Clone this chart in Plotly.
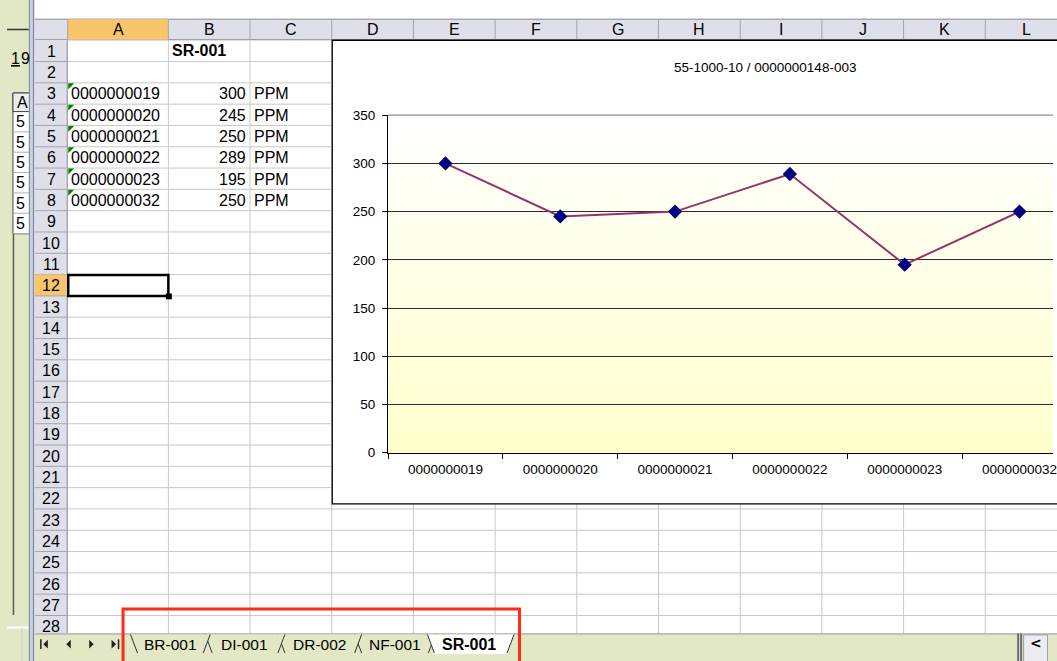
import plotly.graph_objects as go

# ---------------- data ----------------
categories = ["0000000019", "0000000020", "0000000021", "0000000022", "0000000023", "0000000032"]
values = [300, 245, 250, 289, 195, 250]
unit = "PPM"
sheet_name = "SR-001"
chart_title = "55-1000-10 / 0000000148-003"
y_ticks = [0, 50, 100, 150, 200, 250, 300, 350]
col_letters = ["A", "B", "C", "D", "E", "F", "G", "H", "I", "J", "K", "L"]
sheet_tabs = ["BR-001", "DI-001", "DR-002", "NF-001", "SR-001"]
side_labels = ["5", "5", "5", "5", "5", "5"]

# ---------------- geometry (page pixels) ----------------
W, H = 1057, 661
CELL_FONT = "Arial, Liberation Sans, sans-serif"
HDR = "#DFDFE9"
HDR_LINE = "#A4A4B0"
SEL = "#F8C46C"
GRID = "#C8C8C8"
GREEN_BG = "#E2E8C6"

col_edges = [68, 169, 251, 333, 415, 497, 579, 661, 743, 825, 907, 989, 1071]
ROW_TOP = 34
ROW_H = 21.8
N_ROWS = 28
TAB_TOP = 641
RIGHT = W + 10
BOTTOM = H + 10
CHART_L, CHART_T, CHART_B = 333.5, 34, 508.5


def X(px):
    return px / W


def Y(py):
    return 1 - py / H


shapes = []
ann = []


def rect(x0, y0, x1, y1, fill=None, line=None, lw=1, layer="below"):
    shapes.append(dict(type="rect", xref="paper", yref="paper",
                       x0=X(x0), x1=X(x1), y0=Y(y1), y1=Y(y0),
                       fillcolor=fill or "rgba(0,0,0,0)",
                       line=dict(color=line or "rgba(0,0,0,0)", width=lw if line else 0),
                       layer=layer))


def seg(x0, y0, x1, y1, color, lw=1, layer="below"):
    shapes.append(dict(type="line", xref="paper", yref="paper",
                       x0=X(x0), x1=X(x1), y0=Y(y0), y1=Y(y1),
                       line=dict(color=color, width=lw), layer=layer))


def poly(pts, fill, line=None, lw=1, layer="below"):
    p = "M " + " L ".join(f"{X(a)},{Y(b)}" for a, b in pts) + " Z"
    shapes.append(dict(type="path", xref="paper", yref="paper", path=p,
                       fillcolor=fill,
                       line=dict(color=line or "rgba(0,0,0,0)", width=lw if line else 0),
                       layer=layer))


def text(x, y, s, size=16, anchor="left", bold=False, color="black", family=CELL_FONT):
    if bold:
        s = f"<b>{s}</b>"
    ann.append(dict(xref="paper", yref="paper", x=X(x), y=Y(y), text=s, showarrow=False,
                    xanchor=anchor, yanchor="middle", borderpad=0,
                    font=dict(size=size, color=color, family=family)))


def row_top(r):
    return ROW_TOP + ROW_H * (r - 1)


def row_mid(r):
    return row_top(r) + ROW_H / 2


# ---------------- left strip (other window) ----------------
rect(-10, -10, 29, BOTTOM, fill=GREEN_BG)
seg(7, 23, 29, 23, "#333333", 1.5)
text(10, 53, "<u>1</u>", size=16)
text(20, 53, "9", size=16)
rect(13, 88, 30, 232, fill="white", line="#444444", lw=1)
rect(13, 88, 30, 107, fill="#ECECEC", line="#444444", lw=1)
text(16, 97.5, "A", size=16)
for i, lab in enumerate(side_labels):
    y0 = 107 + 20.8 * i
    seg(13, y0 + 20.8, 30, y0 + 20.8, "#B0B0B0", 1)
    text(15, y0 + 10.4, lab, size=16)
seg(13.5, 232, 13.5, 622, "#5A5A5A", 1.5)
seg(7, 635, 29, 635, "#FFFFFF", 2)
seg(22, 635, 22, BOTTOM, "#C8C8C8", 1)

# window border (double line)
rect(29, -10, 35, BOTTOM, fill="#CDD0DE")
seg(29.5, -10, 29.5, BOTTOM, "#7C8096", 1)
seg(33.5, -10, 33.5, BOTTOM, "#7C8096", 1)

# ---------------- sheet grid ----------------
rect(35, -10, RIGHT, 12, fill="white")
rect(68, ROW_TOP, RIGHT, TAB_TOP, fill="white")
for r in range(1, N_ROWS + 1):
    y = row_top(r) + ROW_H
    if y >= TAB_TOP:
        continue
    x_end = CHART_L if y < CHART_B else RIGHT
    seg(68, y, x_end, y, GRID, 1)
for xe in col_edges[1:]:
    if xe >= W:
        continue
    if xe <= CHART_L:
        seg(xe, ROW_TOP, xe, TAB_TOP, GRID, 1)
    else:
        seg(xe, CHART_B, xe, TAB_TOP, GRID, 1)

# column header
rect(35, 12, RIGHT, 34, fill=HDR)
seg(35, 12.5, RIGHT, 12.5, "#8C8C98", 1)
seg(35, 33.5, RIGHT, 33.5, "#8C8C98", 1)
rect(col_edges[0], 12.5, col_edges[1], 33.5, fill=SEL)
for i, letter in enumerate(col_letters):
    x0, x1 = col_edges[i], col_edges[i + 1]
    seg(x0, 13, x0, 33, HDR_LINE, 1)
    text((x0 + x1) / 2, 23.5, letter, size=16, anchor="center")

# row header
rect(35, ROW_TOP, 68, TAB_TOP, fill=HDR)
seg(67.5, ROW_TOP, 67.5, TAB_TOP, "#8C8C98", 1)
for r in range(1, N_ROWS + 1):
    t = row_top(r)
    if r == 12:
        rect(35, t, 67.5, t + ROW_H, fill=SEL)
    seg(35, t + ROW_H, 67.5, t + ROW_H, HDR_LINE, 1)
    text(51.5, row_mid(r) + 0.5, str(r), size=16, anchor="center")

# cell contents
text(172, row_mid(1), sheet_name, size=16, bold=True)
for i, (cat, val) in enumerate(zip(categories, values)):
    r = 3 + i
    text(70.5, row_mid(r) + 0.5, cat, size=16)
    text(247.5, row_mid(r) + 0.5, str(val), size=16, anchor="right")
    text(254, row_mid(r) + 0.5, unit, size=16)
    t = row_top(r)
    poly([(68.5, t + 0.5), (74.5, t + 0.5), (68.5, t + 6.5)], fill="#008000")

# selected cell A12
t12 = row_top(12)
rect(68.5, t12 + 0.5, 169, t12 + ROW_H, line="#000000", lw=2.5)
rect(166.5, t12 + ROW_H - 2.5, 172.5, t12 + ROW_H + 3.5, fill="#000000")

# ---------------- chart area ----------------
rect(CHART_L, CHART_T, RIGHT, CHART_B, fill="white", line="#000000", lw=1.3)

N_BANDS = 70
for k in range(N_BANDS):
    f0 = k / N_BANDS
    f1 = (k + 1) / N_BANDS
    fm = (f0 + f1) / 2
    b = round(204 + (255 - 204) * fm)
    shapes.append(dict(type="rect", xref="x domain", yref="y domain",
                       x0=0, x1=1, y0=f0, y1=f1 + 0.002,
                       fillcolor=f"rgb(255,255,{b})", line=dict(width=0), layer="below"))
shapes.append(dict(type="line", xref="x domain", yref="y domain", x0=0, x1=1, y0=1, y1=1,
                   line=dict(color="#8E8E8E", width=1.2), layer="above"))

text(768, 62, chart_title, size=13.5, anchor="center")

# ---------------- tab bar ----------------
rect(35, TAB_TOP, RIGHT, BOTTOM, fill=GREEN_BG)
seg(35, TAB_TOP + 0.5, RIGHT, TAB_TOP + 0.5, "#9A9A9A", 1)
ac = "#202020"
seg(41, 647, 41, 657, ac, 1.5)
poly([(48, 647.5), (43.5, 652), (48, 656.5)], ac)
poly([(71, 647.5), (66.5, 652), (71, 656.5)], ac)
poly([(89.5, 647.5), (94, 652), (89.5, 656.5)], ac)
poly([(112, 647.5), (116.5, 652), (112, 656.5)], ac)
seg(119, 647, 119, 657, ac, 1.5)

tab_left = [131, 206, 279, 356, 429]
tab_right = [211, 286, 363, 437, 516]
tab_text = [171, 245, 321, 396, 471]
SL = 7
order = [i for i in reversed(range(len(sheet_tabs))) if sheet_tabs[i] != sheet_name]
order += [i for i in range(len(sheet_tabs)) if sheet_tabs[i] == sheet_name]
for i in order:
    xl, xr = tab_left[i], tab_right[i]
    active = sheet_tabs[i] == sheet_name
    poly([(xl, TAB_TOP + 1), (xl + SL, H + 1), (xr - SL, H + 1), (xr, TAB_TOP + 1)],
         fill="white" if active else GREEN_BG)
    seg(xl, TAB_TOP + 1, xl + SL, H, "#303030", 1)
    seg(xr, TAB_TOP + 1, xr - SL, H, "#303030", 1)
for i, name in enumerate(sheet_tabs):
    active = name == sheet_name
    text(tab_text[i], 652, name, size=16 if active else 15.5, anchor="center", bold=active)

# scrollbar stub
rect(1021, TAB_TOP, 1026, BOTTOM, fill="#6E6E6E")
seg(1023.5, TAB_TOP, 1023.5, BOTTOM, "#DADADA", 1)
rect(1027.5, TAB_TOP + 1.5, 1051.5, BOTTOM, fill="#ECECF2", line="#9C9CAC", lw=1)
text(1039.5, 651, "<b>&lt;</b>", size=14, anchor="center", family="DejaVu Sans")

# red highlight rectangle
rect(123.5, 616, 521.5, BOTTOM, line="#FF2A1A", lw=3, layer="above")

# ---------------- figure ----------------
fig = go.Figure()
fig.add_trace(go.Scatter(
    x=categories, y=values, mode="lines+markers",
    line=dict(color="#993366", width=2),
    marker=dict(symbol="diamond", size=11, color="#000080"),
    cliponaxis=False, showlegend=False, hoverinfo="skip"))

plot_left, plot_top, plot_bottom = 389.5, 110.7, 456.0
cat_step = 115.25
fig.update_layout(
    width=W, height=H,
    margin=dict(l=0, r=0, t=0, b=0),
    paper_bgcolor="white",
    plot_bgcolor="rgba(0,0,0,0)",
    shapes=shapes,
    annotations=ann,
    showlegend=False,
    xaxis=dict(
        type="category", domain=[X(plot_left), 1],
        range=[-0.5, -0.5 + (W - plot_left) / cat_step],
        showline=True, linecolor="#000000", linewidth=1.2,
        ticks="outside", tickson="boundaries", ticklen=5, tickcolor="#000000", tickwidth=1.2,
        showgrid=False, zeroline=False, fixedrange=True,
        tickfont=dict(family=CELL_FONT, size=13.5, color="#000000"),
        ticklabelstandoff=4,
    ),
    yaxis=dict(
        domain=[Y(plot_bottom), Y(plot_top)], range=[0, 350],
        tickvals=y_ticks, ticktext=[str(v) for v in y_ticks],
        showline=True, linecolor="#000000", linewidth=1.2,
        ticks="outside", ticklen=5, tickcolor="#000000", tickwidth=1.2,
        showgrid=True, gridcolor="#2A2A2A", gridwidth=1.2,
        zeroline=False, fixedrange=True,
        tickfont=dict(family=CELL_FONT, size=13.5, color="#000000"),
        ticklabelstandoff=4,
    ),
)

fig.write_html("out.html", config={"displayModeBar": False},
               post_script="document.documentElement.style.margin='0';"
                           "document.body.style.margin='0';document.body.style.padding='0';"
                           "document.body.style.overflow='hidden';")
